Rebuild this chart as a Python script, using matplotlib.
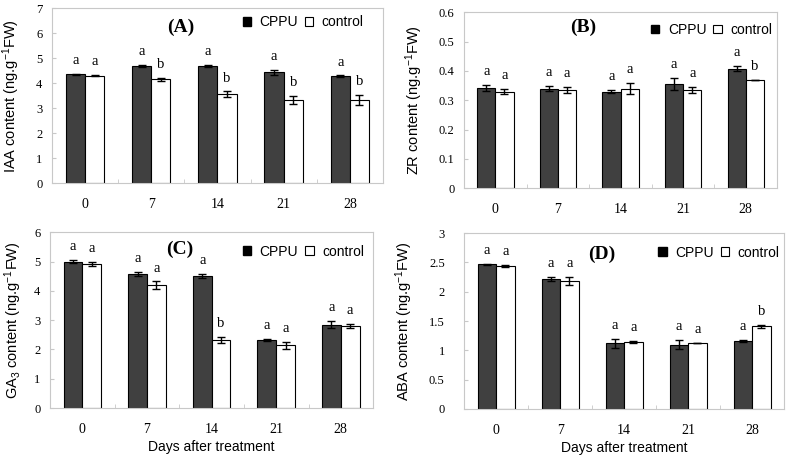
import numpy as np
import matplotlib.pyplot as plt
from matplotlib.patches import Patch

plt.rcParams["mathtext.fontset"] = "custom"
plt.rcParams["mathtext.rm"] = "Liberation Sans"
plt.rcParams["mathtext.it"] = "Liberation Sans:italic"

days = ["0", "7", "14", "21", "28"]

# IAA
iaa_cppu = [4.35, 4.68, 4.68, 4.44, 4.28]
iaa_cppu_err = [0.02, 0.05, 0.05, 0.10, 0.03]
iaa_ctrl = [4.30, 4.15, 3.55, 3.32, 3.32]
iaa_ctrl_err = [0.02, 0.05, 0.12, 0.17, 0.20]
iaa_letters_cppu = ["a", "a", "a", "a", "a"]
iaa_letters_ctrl = ["a", "b", "b", "b", "b"]

# ZR
zr_cppu = [0.341, 0.340, 0.330, 0.355, 0.408]
zr_cppu_err = [0.010, 0.008, 0.006, 0.020, 0.008]
zr_ctrl = [0.330, 0.336, 0.340, 0.335, 0.368]
zr_ctrl_err = [0.010, 0.010, 0.020, 0.010, 0.0]
zr_letters_cppu = ["a", "a", "a", "a", "a"]
zr_letters_ctrl = ["a", "a", "a", "a", "b"]

# GA3
ga_cppu = [5.00, 4.58, 4.50, 2.32, 2.85]
ga_cppu_err = [0.05, 0.06, 0.07, 0.03, 0.13]
ga_ctrl = [4.93, 4.20, 2.33, 2.15, 2.80]
ga_ctrl_err = [0.07, 0.12, 0.10, 0.12, 0.08]
ga_letters_cppu = ["a", "a", "a", "a", "a"]
ga_letters_ctrl = ["a", "a", "b", "a", "a"]

# ABA
aba_cppu = [2.47, 2.22, 1.12, 1.10, 1.16]
aba_cppu_err = [0.01, 0.04, 0.08, 0.07, 0.02]
aba_ctrl = [2.44, 2.18, 1.14, 1.12, 1.41]
aba_ctrl_err = [0.02, 0.07, 0.02, 0.0, 0.03]
aba_letters_cppu = ["a", "a", "a", "a", "a"]
aba_letters_ctrl = ["a", "a", "a", "a", "b"]

SERIF = "Liberation Serif"
SANS = "Liberation Sans"
GRID = "#c8c8c8"


def draw_panel(ax, cppu, cppu_err, ctrl, ctrl_err, let_c, let_k,
               ymax, ystep, ylabel, tag, tag_pos, leg_pos, xlabel=None,
               ypad=7, labelpad=10):
    x = np.arange(len(days))
    w = 0.29
    ax.bar(x - w / 2, cppu, w, color="#404040", edgecolor="black", linewidth=0.8)
    ax.bar(x + w / 2, ctrl, w, color="white", edgecolor="black", linewidth=0.8)
    ax.errorbar(x - w / 2, cppu, yerr=cppu_err, fmt="none", ecolor="black",
                elinewidth=1, capsize=3, capthick=1)
    ax.errorbar(x + w / 2, ctrl, yerr=ctrl_err, fmt="none", ecolor="black",
                elinewidth=1, capsize=3, capthick=1)

    for i in range(len(days)):
        ax.annotate(let_c[i], (x[i] - w / 2, cppu[i] + cppu_err[i]),
                    xytext=(0, 5), textcoords="offset points", ha="center",
                    va="bottom", fontsize=10.5, family=SERIF)
        ax.annotate(let_k[i], (x[i] + w / 2, ctrl[i] + ctrl_err[i]),
                    xytext=(0, 5), textcoords="offset points", ha="center",
                    va="bottom", fontsize=10.5, family=SERIF)

    ax.set_xlim(-0.5, len(days) - 0.5)
    ax.set_ylim(0, ymax)
    yt = np.arange(0, ymax + ystep / 2, ystep)
    ax.set_yticks(yt)
    ax.set_yticklabels([f"{v:g}" for v in yt], family=SERIF, fontsize=9)
    ax.set_xticks(x)
    ax.set_xticklabels(days, family=SERIF, fontsize=10)
    ax.set_xticks(np.arange(-0.5, len(days)), minor=True)
    ax.tick_params(axis="x", which="major", length=0, pad=11)
    ax.tick_params(axis="x", which="minor", direction="in", length=3, color=GRID)
    ax.tick_params(axis="y", direction="in", length=3, color=GRID, pad=ypad)
    for s in ax.spines.values():
        s.set_color(GRID)
        s.set_linewidth(0.8)

    ax.set_ylabel(ylabel, family=SANS, fontsize=10.5, labelpad=labelpad)
    if xlabel:
        ax.set_xlabel(xlabel, family=SANS, fontsize=10, labelpad=3)

    ax.text(tag_pos[0], tag_pos[1], tag, transform=ax.transAxes, ha="center",
            va="center", fontsize=14, fontweight="bold", family=SERIF)

    handles = [Patch(facecolor="black", edgecolor="black"),
               Patch(facecolor="white", edgecolor="black", linewidth=0.8)]
    ax.legend(handles, ["CPPU", "control"], ncol=2, frameon=False,
              loc="center left", bbox_to_anchor=leg_pos,
              handlelength=0.6, handleheight=0.6, handletextpad=0.6,
              columnspacing=0.5, borderaxespad=0,
              prop={"family": SANS, "size": 10})


fig = plt.figure(figsize=(7.88, 4.59), dpi=100)
axA = fig.add_axes([0.066, 0.601, 0.420, 0.381])
axB = fig.add_axes([0.589, 0.590, 0.397, 0.383])
axC = fig.add_axes([0.0635, 0.111, 0.410, 0.383])
axD = fig.add_axes([0.589, 0.109, 0.406, 0.383])

draw_panel(axA, iaa_cppu, iaa_cppu_err, iaa_ctrl, iaa_ctrl_err,
           iaa_letters_cppu, iaa_letters_ctrl, 7, 1,
           r"IAA content (ng.g$^{-1}$FW)", "(A)", (0.39, 0.89), (0.56, 0.92))
draw_panel(axB, zr_cppu, zr_cppu_err, zr_ctrl, zr_ctrl_err,
           zr_letters_cppu, zr_letters_ctrl, 0.6, 0.1,
           r"ZR content (ng.g$^{-1}$FW)", "(B)", (0.38, 0.915), (0.58, 0.90))
draw_panel(axC, ga_cppu, ga_cppu_err, ga_ctrl, ga_ctrl_err,
           ga_letters_cppu, ga_letters_ctrl, 6, 1,
           r"GA$_3$ content (ng.g$^{-1}$FW)", "(C)", (0.40, 0.90), (0.58, 0.89),
           xlabel="Days after treatment", ypad=7, labelpad=7)
draw_panel(axD, aba_cppu, aba_cppu_err, aba_ctrl, aba_ctrl_err,
           aba_letters_cppu, aba_letters_ctrl, 3, 0.5,
           r"ABA content (ng.g$^{-1}$FW)", "(D)", (0.43, 0.88), (0.59, 0.89),
           xlabel="Days after treatment", ypad=14)

fig.savefig("out.png", dpi=100)
